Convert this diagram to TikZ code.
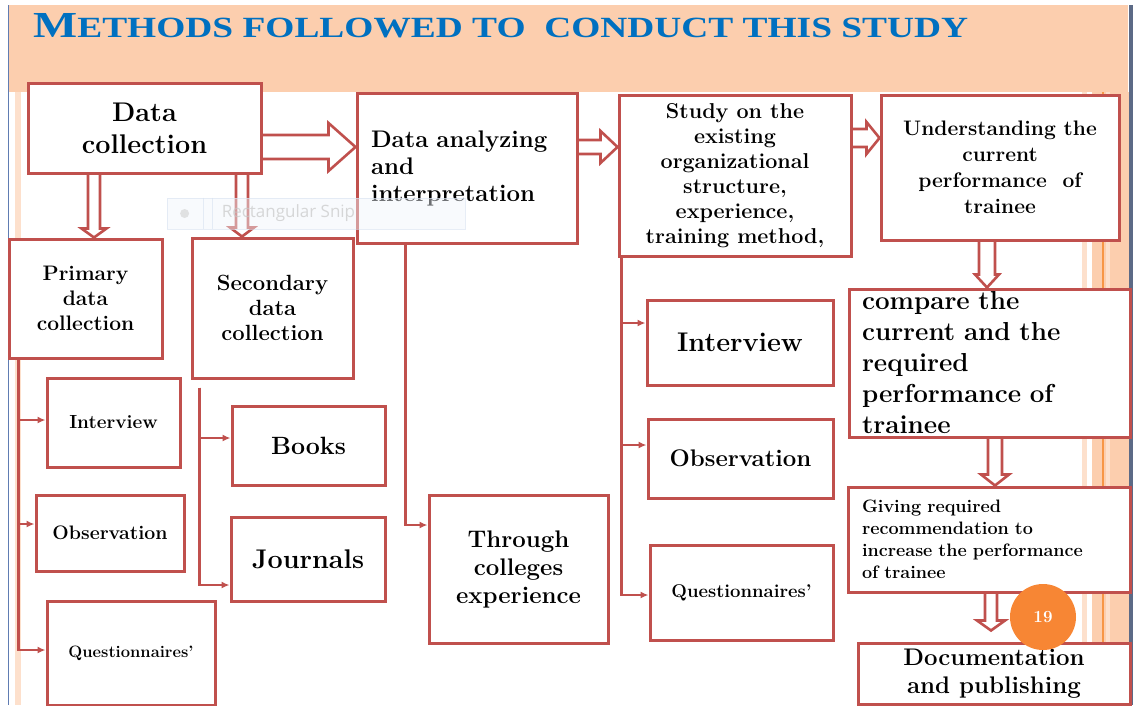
\documentclass[tikz,border=0pt]{standalone}
\usepackage{fontspec}
\usepackage{graphicx}
\usetikzlibrary{calc,arrows.meta}
\newfontfamily\titlefont{Liberation Serif}
\newfontfamily\snipfont{Open Sans}
\definecolor{boxred}{RGB}{192,80,77}
\definecolor{peach}{RGB}{252,206,174}
\definecolor{peachlight}{RGB}{253,224,204}
\definecolor{titleblue}{RGB}{0,112,192}
\definecolor{edgeblue}{RGB}{96,124,178}
\definecolor{edgedark}{RGB}{92,106,134}
\definecolor{pageorange}{RGB}{247,134,52}
\definecolor{stripeorange}{RGB}{247,150,70}
\definecolor{snipfill}{RGB}{240,245,252}
\definecolor{snipedge}{RGB}{215,225,240}
\pgfdeclarelayer{back}\pgfdeclarelayer{mid}\pgfdeclarelayer{front}
\pgfsetlayers{back,mid,main,front}

\newcommand\fs[2]{\fontsize{#1}{#2}\selectfont}

% hollow block arrow pointing right: start node anchor, tip point, shaft half-height, head half-height, head length
\newcommand\harrow[5]{%
  \path[blockarrow] let \p1=(#1), \p2=(#2) in
    (\x1,\y2+#3) -- (\x2-#5,\y2+#3) -- (\x2-#5,\y2+#4) -- (\x2,\y2)
    -- (\x2-#5,\y2-#4) -- (\x2-#5,\y2-#3) -- (\x1,\y2-#3);}
% hollow block arrow pointing down: start anchor, tip point, shaft half-width, head half-width, head length
\newcommand\varrow[5]{%
  \path[blockarrow] let \p1=(#1), \p2=(#2) in
    (\x2+#3,\y1) -- (\x2+#3,\y2+#5) -- (\x2+#4,\y2+#5) -- (\x2,\y2)
    -- (\x2-#4,\y2+#5) -- (\x2-#3,\y2+#5) -- (\x2-#3,\y1);}

\tikzset{
  box/.style={draw=boxred, line width=3pt, fill=white, inner sep=0pt, align=center},
  tsize/.style 2 args={font=\bfseries\fontsize{#1}{#2}\selectfont\addfontfeature{FakeBold=0.8}},
  conn/.style={draw=boxred, line width=2.6pt, -{Latex[length=8pt,width=7pt]}},
  blockarrow/.style={draw=boxred, line width=2.6pt, fill=white, line join=miter},
}

\begin{document}
\begin{tikzpicture}[x=1pt,y=-1pt]
\useasboundingbox (0,0) rectangle (1133,705);

% ---- slide background ----
\begin{pgfonlayer}{back}
  \fill[white] (0,0) rectangle (1133,705);
  \fill[peach] (8,5) rectangle (1128,92);
  \fill[peachlight] (15,92) rectangle (21,705);
  \fill[peachlight] (1082,92) rectangle (1087,705);
  \fill[peach] (1092,92) rectangle (1129,705);
  \fill[peachlight] (1106,92) rectangle (1110,705);
  \draw[stripeorange, line width=1.2pt] (1103,92) -- (1103,705);
  \draw[edgeblue, line width=1.3pt] (8.5,5) -- (8.5,705);
  \fill[edgedark] (1129,5) rectangle (1133,705);
\end{pgfonlayer}

% ---- title ----
\node[anchor=base west, inner sep=0pt, text=titleblue] (title) at (33,37)
  {\resizebox{935pt}{24pt}{\titlefont\bfseries\fs{35}{35}M\fs{28}{28}ETHODS FOLLOWED TO\ \ CONDUCT THIS STUDY}};

% ---- boxes ----
\node[box, tsize={27}{32}, minimum width=233pt, minimum height=90pt] (dc) at (144.5,128) {Data\\collection};
\node[box, tsize={21}{25}, minimum width=153pt, minimum height=119pt] (prim) at (85.5,298.5) {Primary\\data\\collection};
\node[box, tsize={22}{25}, minimum width=161pt, minimum height=140pt] (sec) at (272.5,308) {Secondary\\data\\collection};
\node[box, tsize={24}{27}, minimum width=220pt, minimum height=150pt, text width=192pt, align=left] (ana) at (467,168) {Data analyzing\\and\\interpretation};
\node[box, tsize={21.5}{25}, minimum width=232pt, minimum height=161pt] (study) at (735,175.5) {Study on the\\existing\\organizational\\structure,\\experience,\\training method,};
\node[box, tsize={21}{26}, minimum width=238pt, minimum height=145pt] (und) at (1000,167.5) {Understanding the\\current\\performance\ \ of\\trainee};
\node[box, tsize={26}{31}, minimum width=281pt, minimum height=148pt, text width=255pt, align=left] (cmp) at (989.5,363) {compare the\\current and the\\required\\performance of\\trainee};
\node[box, tsize={18}{22}, minimum width=282pt, minimum height=105pt, text width=254pt, align=left] (giv) at (989,539.5) {Giving required\\recommendation to\\increase the performance\\of trainee};
\node[box, tsize={24}{28}, minimum width=272pt, minimum height=61pt] (doc) at (994,673.5) {Documentation\\and publishing};

\node[box, tsize={19}{22}, minimum width=133pt, minimum height=89pt] (intL) at (113.5,422.5) {Interview};
\node[box, tsize={19.5}{22}, minimum width=148pt, minimum height=76pt] (obsL) at (110,533) {Observation};
\node[box, tsize={16.5}{20}, minimum width=168pt, minimum height=104pt] (qL) at (131,653) {Questionnaires'};
\node[box, tsize={25}{28}, minimum width=153pt, minimum height=79pt] (books) at (308.5,445.5) {Books};
\node[box, tsize={27}{30}, minimum width=154pt, minimum height=84pt] (jour) at (308,559) {Journals};
\node[box, tsize={24}{28}, minimum width=179pt, minimum height=148pt] (thr) at (518.5,569) {Through\\colleges\\experience};
\node[box, tsize={27}{30}, minimum width=186pt, minimum height=85pt] (intM) at (740,342.5) {Interview};
\node[box, tsize={24}{28}, minimum width=185pt, minimum height=79pt] (obsM) at (740.5,458.5) {Observation};
\node[box, tsize={18.5}{22}, minimum width=183pt, minimum height=95pt] (qM) at (741.5,592.5) {Questionnaires'};

% page number badge
\node[circle, fill=pageorange, minimum size=66pt, inner sep=0pt, text=white, tsize={17}{17}] (pg) at (1043,617) {19};

% ---- connectors ----
\begin{pgfonlayer}{mid}
  % block arrows of the main flow
  \harrow{dc.east}{[yshift=21pt]ana.west}{12pt}{24pt}{27pt}
  \harrow{ana.east}{[yshift=28.5pt]study.west}{7pt}{16pt}{17pt}
  \harrow{study.east}{[yshift=29.5pt]und.west}{9pt}{16pt}{13pt}
  \varrow{[xshift=-50.5pt]dc.south}{[xshift=8.5pt]prim.north}{6pt}{12.5pt}{9pt}
  \varrow{[xshift=97.5pt]dc.south}{[xshift=-30.5pt]sec.north}{6pt}{12pt}{9pt}
  \varrow{[xshift=-13pt]und.south}{[xshift=-2.5pt]cmp.north}{8pt}{12pt}{13pt}
  \varrow{[xshift=5.5pt]cmp.south}{[xshift=6pt]giv.north}{7pt}{14pt}{11pt}
  \varrow{[xshift=2pt]giv.south}{[xshift=-3pt,yshift=11pt]doc.north}{6pt}{14pt}{10pt}

  % thin branch lines
  \draw[conn] ([xshift=11pt]prim.south west) |- ([yshift=2.5pt]intL.west);
  \draw[conn] ([xshift=11pt]prim.south west) |- ([yshift=9pt]obsL.west);
  \draw[conn] ([xshift=11pt]prim.south west) |- ([yshift=3pt]qL.west);
  \draw[conn] ([xshift=9pt,yshift=-8pt]sec.south west) |- ([yshift=7.5pt]books.west);
  \draw[conn] ([xshift=9pt,yshift=-8pt]sec.south west) |- ([yshift=-26pt]jour.west);
  \draw[conn] ([xshift=50pt]ana.south west) |- ([yshift=44pt]thr.west);
  \draw[conn] ([xshift=4pt]study.south west) |- ([yshift=19.5pt]intM.west);
  \draw[conn] ([xshift=4pt]study.south west) |- ([yshift=13.5pt]obsM.west);
  \draw[conn] ([xshift=4pt]study.south west) |- ([yshift=-2.5pt]qM.west);
\end{pgfonlayer}

% ---- faint screen-capture toolbar ----
\begin{pgfonlayer}{front}
  \node[draw=snipedge, fill=snipfill, fill opacity=0.45, draw opacity=0.6, line width=0.8pt,
        minimum width=298pt, minimum height=31pt, inner sep=0pt] (snip) at (316,213.5) {};
  \draw[snipedge, opacity=0.6, line width=0.8pt] ([xshift=37pt]snip.north west) -- ([xshift=37pt]snip.south west);
  \draw[snipedge, opacity=0.6, line width=0.8pt] ([xshift=46pt]snip.north west) -- ([xshift=46pt]snip.south west);
  \fill[black!18, opacity=0.6] ([xshift=18pt]snip.west) circle (4.5pt);
  \node[anchor=west, inner sep=0pt, text=black!22, text opacity=0.7, font=\snipfont\fs{17}{17}] (sniptext) at ([xshift=55pt]snip.west) {Rectangular Snip};
\end{pgfonlayer}
\end{tikzpicture}
\end{document}
